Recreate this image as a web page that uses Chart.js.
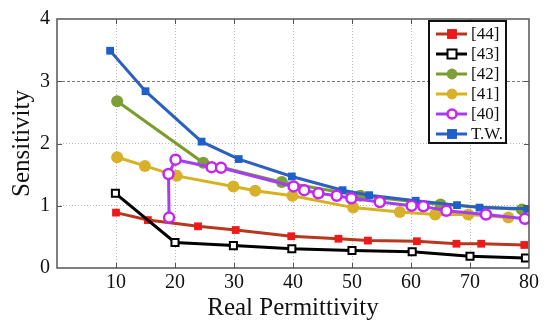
<!DOCTYPE html>
<html>
<head>
<meta charset="utf-8">
<script src="https://cdn.jsdelivr.net/npm/chart.js@4.4.0/dist/chart.umd.min.js"></script>
<style>
html,body{margin:0;padding:0;background:#fff;}
#wrap{width:550px;height:325px;position:relative;}
</style>
</head>
<body>
<div id="wrap"><canvas id="c" width="550" height="325"></canvas></div>
<script>
// ---- data ----
const xTicks = [10, 20, 30, 40, 50, 60, 70, 80];
const yTicks = [0, 1, 2, 3, 4];
const seriesNames = ['[44]', '[43]', '[42]', '[41]', '[40]', 'T.W.'];

const r44_x = [10, 15.4, 23.9, 30.3, 39.7, 47.7, 52.7, 61, 67.7, 71.9, 79.2];
const r44_y = [0.89, 0.77, 0.67, 0.61, 0.51, 0.47, 0.44, 0.43, 0.39, 0.39, 0.37];

const r43_x = [9.9, 20, 29.9, 39.8, 50, 60.2, 70, 79.4];
const r43_y = [1.20, 0.41, 0.36, 0.31, 0.28, 0.26, 0.19, 0.16];

const r42_x = [10.2, 24.8, 38.1, 51.4, 65, 78.8];
const r42_y = [2.68, 1.69, 1.38, 1.16, 1.02, 0.94];

const r41_x = [10.2, 14.9, 20.3, 29.9, 33.6, 39.9, 50.2, 58.1, 64.1, 69.7, 76.5];
const r41_y = [1.78, 1.64, 1.48, 1.31, 1.24, 1.16, 0.97, 0.90, 0.86, 0.86, 0.81];

const r40_x = [19, 18.9, 20.1, 26.2, 27.8, 40.1, 41.9, 44.3, 47.4, 49.9, 54.7, 60.1, 62.1, 66, 72.7, 79.3];
const r40_y = [0.81, 1.51, 1.74, 1.62, 1.61, 1.31, 1.25, 1.20, 1.16, 1.12, 1.06, 1.00, 0.99, 0.92, 0.86, 0.79];

const tw_x = [9, 15, 24.5, 30.8, 39.8, 48.4, 52.9, 60.8, 67.8, 71.6, 79.7];
const tw_y = [3.49, 2.84, 2.03, 1.75, 1.47, 1.25, 1.17, 1.08, 1.01, 0.97, 0.95];

const zip = (xs, ys) => xs.map((x, i) => ({x: x, y: ys[i]}));

const styles = [
  {line:'#b8381e', fill:'#ee1a1a', border:'#ee1a1a', shape:'rect', r:5.5, bw:0},
  {line:'#000000', fill:'#ffffff', border:'#000000', shape:'rect', r:5, bw:2},
  {line:'#7b9b2c', fill:'#7e9f38', border:'#7e9f38', shape:'circle', r:6, bw:0},
  {line:'#d6b21e', fill:'#d8b02a', border:'#d8b02a', shape:'circle', r:6, bw:0},
  {line:'#a43ef2', fill:'#ffffff', border:'#c824f0', shape:'circle', r:5, bw:2.5},
  {line:'#2b5fc2', fill:'#1f5fca', border:'#1f5fca', shape:'rect', r:5.5, bw:0}
];
const dataSets = [zip(r44_x,r44_y), zip(r43_x,r43_y), zip(r42_x,r42_y), zip(r41_x,r41_y), zip(r40_x,r40_y), zip(tw_x,tw_y)];

const datasets = dataSets.map((d, i) => ({
  label: seriesNames[i],
  data: d,
  borderColor: styles[i].line,
  borderWidth: 3,
  pointStyle: styles[i].shape,
  pointRadius: styles[i].r,
  pointBackgroundColor: styles[i].fill,
  pointBorderColor: styles[i].border,
  pointBorderWidth: styles[i].bw,
  tension: 0,
  fill: false,
  order: [6,5,4,3,1,2][i]
}));

const SERIF = '"Liberation Serif", "DejaVu Serif", serif';

const framePlugin = {
  id: 'frame',
  beforeDatasetsDraw(chart) {
    const {ctx, chartArea:a, scales} = chart;
    const y3 = scales.y.getPixelForValue(3);
    ctx.save();
    ctx.strokeStyle = '#7a7a7a';
    ctx.lineWidth = 1;
    ctx.setLineDash([3, 2]);
    ctx.beginPath();
    ctx.moveTo(a.left, Math.round(y3) + 0.5);
    ctx.lineTo(a.right, Math.round(y3) + 0.5);
    ctx.stroke();
    ctx.restore();
  },
  afterDatasetsDraw(chart) {
    const {ctx, chartArea:a, scales} = chart;
    ctx.save();
    ctx.strokeStyle = '#555';
    ctx.lineWidth = 1.5;
    ctx.setLineDash([]);
    ctx.strokeRect(a.left, a.top, a.right - a.left, a.bottom - a.top);
    ctx.lineWidth = 1;
    ctx.beginPath();
    xTicks.slice(0, -1).forEach(v => {
      const px = Math.round(scales.x.getPixelForValue(v)) + 0.5;
      ctx.moveTo(px, a.top); ctx.lineTo(px, a.top + 5);
      ctx.moveTo(px, a.bottom); ctx.lineTo(px, a.bottom - 5);
    });
    yTicks.slice(1, -1).forEach(v => {
      const py = Math.round(scales.y.getPixelForValue(v)) + 0.5;
      ctx.moveTo(a.left, py); ctx.lineTo(a.left + 5, py);
      ctx.moveTo(a.right, py); ctx.lineTo(a.right - 5, py);
    });
    ctx.stroke();

    // legend
    const lx = 429, ly = 21, lw = 77, lh = 122;
    ctx.fillStyle = '#fff';
    ctx.fillRect(lx, ly, lw, lh);
    ctx.strokeStyle = '#111';
    ctx.lineWidth = 2;
    ctx.strokeRect(lx, ly, lw, lh);
    ctx.font = '17px ' + SERIF;
    ctx.textBaseline = 'middle';
    ctx.textAlign = 'left';
    seriesNames.forEach((name, i) => {
      const s = styles[i];
      const cy = ly + 13 + i * 20;
      ctx.strokeStyle = s.line;
      ctx.lineWidth = 3;
      ctx.beginPath();
      ctx.moveTo(lx + 7, cy); ctx.lineTo(lx + 38, cy);
      ctx.stroke();
      const cx = lx + 23;
      ctx.fillStyle = s.fill;
      ctx.strokeStyle = s.border;
      ctx.lineWidth = s.bw;
      ctx.beginPath();
      if (s.shape === 'rect') {
        const h = s.r * 0.9;
        ctx.rect(cx - h, cy - h, 2 * h, 2 * h);
      } else {
        ctx.arc(cx, cy, s.r * 0.9, 0, Math.PI * 2);
      }
      ctx.fill();
      if (s.bw > 0) ctx.stroke();
      ctx.fillStyle = '#111';
      ctx.fillText(name, lx + 42, cy + 1);
    });
    ctx.restore();
  }
};

new Chart(document.getElementById('c'), {
  type: 'line',
  data: { datasets: datasets },
  options: {
    responsive: false,
    animation: false,
    events: [],
    layout: { padding: { top: 16, right: 21, left: 0, bottom: 0 } },
    plugins: { legend: { display: false }, tooltip: { enabled: false } },
    scales: {
      x: {
        type: 'linear', min: 0, max: 80,
        afterFit(s) { s.height = 57; },
        afterBuildTicks(s) { s.ticks = [0].concat(xTicks).map(v => ({value: v})); },
        ticks: {
          font: { family: SERIF, size: 20 }, color: '#111', padding: 3,
          maxRotation: 0, autoSkip: false,
          callback: v => (v === 0 ? '' : String(v))
        },
        grid: {
          drawTicks: false,
          color: c => (c.tick && (c.tick.value === 0 || c.tick.value === 80)) ? 'rgba(0,0,0,0)' : '#b8b8b8',
          lineWidth: 1
        },
        border: { display: false, dash: [1, 2] },
        title: { display: true, text: 'Real Permittivity', font: { family: SERIF, size: 25 }, color: '#111', padding: { top: 0, bottom: 2 } }
      },
      y: {
        type: 'linear', min: 0, max: 4,
        afterFit(s) { s.width = 57; },
        afterBuildTicks(s) { s.ticks = yTicks.map(v => ({value: v})); },
        ticks: { font: { family: SERIF, size: 20 }, color: '#111', padding: 7 },
        grid: {
          drawTicks: false,
          color: c => (c.tick && (c.tick.value === 0 || c.tick.value === 4 || c.tick.value === 3)) ? 'rgba(0,0,0,0)' : '#b8b8b8',
          lineWidth: 1
        },
        border: { display: false, dash: [1, 2] },
        title: { display: true, text: 'Sensitivity', font: { family: SERIF, size: 25 }, color: '#111', padding: { top: 7, bottom: 4 } }
      }
    }
  },
  plugins: [framePlugin]
});
</script>
</body>
</html>
